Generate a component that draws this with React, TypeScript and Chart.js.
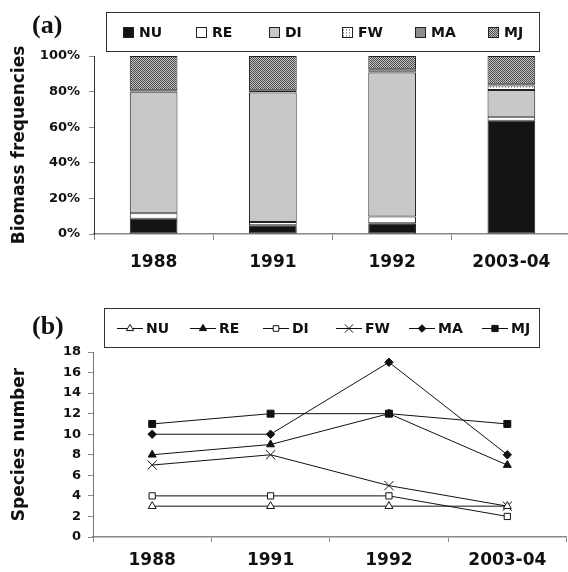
import React, { useEffect, useRef } from "react";
import { Chart, registerables } from "chart.js";

Chart.register(...registerables);

// ---------- data ----------
const years = ["1988", "1991", "1992", "2003-04"];
const groups = ["NU", "RE", "DI", "FW", "MA", "MJ"];

// (a) biomass frequencies, % per group
const biomassNU = [8.6, 4.9, 6.0, 63.6];
const biomassRE = [3.1, 1.9, 3.8, 2.3];
const biomassDI = [68.0, 72.7, 81.0, 15.0];
const biomassFW = [0.3, 0.2, 0.3, 2.5];
const biomassMA = [0.7, 1.0, 1.5, 0.7];
const biomassMJ = [19.3, 19.3, 7.4, 15.9];

// (b) species number per group
const speciesNU = [3, 3, 3, 3];
const speciesRE = [8, 9, 12, 7];
const speciesDI = [4, 4, 4, 2];
const speciesFW = [7, 8, 5, 3];
const speciesMA = [10, 10, 17, 8];
const speciesMJ = [11, 12, 12, 11];

const pctMax = 100;
const pctStep = 20;
const speciesMax = 18;
const speciesStep = 2;

const SANS = '"DejaVu Sans", Verdana, sans-serif';
const SERIF = '"Liberation Serif", "Times New Roman", serif';

function makePattern(size: number, bg: string, fg: string, pts: number[][]) {
  const c = document.createElement("canvas");
  c.width = size;
  c.height = size;
  const g = c.getContext("2d")!;
  g.fillStyle = bg;
  g.fillRect(0, 0, size, size);
  g.fillStyle = fg;
  pts.forEach(([x, y]) => g.fillRect(x, y, 1, 1));
  return g.createPattern(c, "repeat")!;
}

function markerPath(ctx: CanvasRenderingContext2D, style: string, x: number, y: number, r: number) {
  ctx.beginPath();
  if (style === "triangle") {
    let a = 0;
    ctx.moveTo(x + Math.sin(a) * r, y - Math.cos(a) * r);
    a += (2 * Math.PI) / 3;
    ctx.lineTo(x + Math.sin(a) * r, y - Math.cos(a) * r);
    a += (2 * Math.PI) / 3;
    ctx.lineTo(x + Math.sin(a) * r, y - Math.cos(a) * r);
    ctx.closePath();
  } else if (style === "rect") {
    const s = Math.SQRT1_2 * r;
    ctx.rect(x - s, y - s, 2 * s, 2 * s);
  } else if (style === "rectRot") {
    ctx.moveTo(x, y - r);
    ctx.lineTo(x + r, y);
    ctx.lineTo(x, y + r);
    ctx.lineTo(x - r, y);
    ctx.closePath();
  } else if (style === "crossRot") {
    const s = Math.SQRT1_2 * r;
    ctx.moveTo(x - s, y - s);
    ctx.lineTo(x + s, y + s);
    ctx.moveTo(x - s, y + s);
    ctx.lineTo(x + s, y - s);
  }
}

const boxLegend = {
  id: "boxLegend",
  afterDraw(chart: any, _args: any, opts: any) {
    const { ctx } = chart;
    ctx.save();
    ctx.strokeStyle = "#333";
    ctx.lineWidth = 1;
    ctx.strokeRect(opts.x + 0.5, opts.y + 0.5, opts.w, opts.h);
    const cy = opts.y + opts.h / 2 + 0.5;
    ctx.font = `bold 14px ${SANS}`;
    ctx.textBaseline = "middle";
    ctx.textAlign = "left";
    chart.data.datasets.forEach((ds: any, i: number) => {
      const x0 = opts.x + opts.startX + i * opts.step;
      if (opts.kind === "swatch") {
        ctx.fillStyle = ds.backgroundColor;
        ctx.fillRect(x0, cy - 5, 10, 10);
        ctx.strokeStyle = "#222";
        ctx.lineWidth = 1;
        ctx.strokeRect(x0 + 0.5, cy - 4.5, 10, 10);
        ctx.fillStyle = "#111";
        ctx.fillText(ds.label, x0 + 16, cy + 1);
      } else {
        ctx.strokeStyle = "#111";
        ctx.lineWidth = 1;
        ctx.beginPath();
        ctx.moveTo(x0, Math.round(cy) + 0.5);
        ctx.lineTo(x0 + 26, Math.round(cy) + 0.5);
        ctx.stroke();
        markerPath(ctx, ds.pointStyle, x0 + 13, Math.round(cy) + 0.5, ds.pointRadius * 0.9);
        if (ds.pointStyle !== "crossRot") {
          ctx.fillStyle = ds.pointBackgroundColor;
          ctx.fill();
        }
        ctx.stroke();
        ctx.fillStyle = "#111";
        ctx.fillText(ds.label, x0 + 29, cy + 1);
      }
    });
    ctx.font = `bold 26px ${SERIF}`;
    ctx.fillStyle = "#111";
    ctx.textAlign = "left";
    ctx.fillText(opts.panel, opts.panelX, opts.panelY);
    ctx.restore();
  },
};

export default function App() {
  const refA = useRef<HTMLCanvasElement>(null);
  const refB = useRef<HTMLCanvasElement>(null);

  useEffect(() => {
    const mjPat = makePattern(2, "#c4c4c4", "#4a4a4a", [[0, 0], [1, 1]]);
    const fwPat = makePattern(3, "#ffffff", "#a0a0a0", [[1, 0], [1, 2]]);
    const fills = ["#141414", "#ffffff", "#c8c8c8", fwPat, "#8c8c8c", mjPat];
    const biomass = [biomassNU, biomassRE, biomassDI, biomassFW, biomassMA, biomassMJ];
    const species = [speciesNU, speciesRE, speciesDI, speciesFW, speciesMA, speciesMJ];

    const tickFont = { family: SANS, weight: "bold" as const, size: 13 };
    const xFont = { family: SANS, weight: "bold" as const, size: 17 };

    const chartA = new Chart(refA.current!, {
      type: "bar",
      data: {
        labels: years,
        datasets: groups.map((g, i) => ({
          label: g,
          data: biomass[i],
          backgroundColor: fills[i],
          borderColor: "#222",
          borderWidth: 1,
          borderSkipped: false,
          barPercentage: 0.4,
          categoryPercentage: 1,
        })),
      },
      options: {
        animation: false,
        responsive: false,
        devicePixelRatio: 1,
        layout: { padding: { top: 56, left: 0, right: 3, bottom: 6 } },
        plugins: {
          legend: { display: false },
          tooltip: { enabled: false },
          boxLegend: {
            kind: "swatch", x: 106, y: 12, w: 433, h: 39, startX: 17, step: 73,
            panel: "(a)", panelX: 32, panelY: 26,
          },
        } as any,
        scales: {
          x: {
            stacked: true,
            grid: { drawOnChartArea: false, drawTicks: true, tickLength: 6, color: "#888", offset: true },
            border: { display: true, color: "#888", width: 1.5 },
            ticks: { font: xFont, color: "#111", padding: 12 },
            afterFit: (s: any) => { s.height = 40; },
          },
          y: {
            stacked: true,
            min: 0,
            max: pctMax,
            ticks: { stepSize: pctStep, autoSkip: false, callback: (v: any) => v + "%", font: tickFont, color: "#111", padding: 9 },
            grid: { drawOnChartArea: false, tickLength: 5, color: "#888" },
            border: { display: true, color: "#333", width: 1 },
            title: {
              display: true, text: "Biomass frequencies", color: "#111",
              font: { family: SANS, weight: "bold", size: 17 }, padding: { top: 9, bottom: 0 },
            },
            afterFit: (s: any) => { s.width = 94; },
          },
        },
      },
      plugins: [boxLegend],
    });

    const pStyles = ["triangle", "triangle", "rect", "crossRot", "rectRot", "rect"];
    const pRadius = [4.6, 4.6, 4.4, 6.5, 4.2, 4.9];
    const pBg = ["#ffffff", "#111111", "#ffffff", "#ffffff", "#111111", "#111111"];
    const pOrder = [0, 0, 0, 0, 0, -1];

    const chartB = new Chart(refB.current!, {
      type: "line",
      data: {
        labels: years,
        datasets: groups.map((g, i) => ({
          label: g,
          data: species[i],
          borderColor: "#111",
          borderWidth: 1,
          pointStyle: pStyles[i] as any,
          pointRadius: pRadius[i],
          pointBackgroundColor: pBg[i],
          pointBorderColor: "#111",
          pointBorderWidth: 1,
          fill: false,
          tension: 0,
          order: pOrder[i],
        })),
      },
      options: {
        animation: false,
        responsive: false,
        devicePixelRatio: 1,
        layout: { padding: { top: 72, left: 0, right: 1, bottom: 2 } },
        plugins: {
          legend: { display: false },
          tooltip: { enabled: false },
          boxLegend: {
            kind: "line", x: 104, y: 28, w: 435, h: 39, startX: 13, step: 73,
            panel: "(b)", panelX: 32, panelY: 47,
          },
        } as any,
        scales: {
          x: {
            offset: true,
            grid: { drawOnChartArea: false, drawTicks: true, tickLength: 5, color: "#888", offset: true },
            border: { display: true, color: "#888", width: 1.5 },
            ticks: { font: xFont, color: "#111", padding: 8 },
            afterFit: (s: any) => { s.height = 33; },
          },
          y: {
            min: 0,
            max: speciesMax,
            ticks: { stepSize: speciesStep, autoSkip: false, font: tickFont, color: "#111", padding: 7 },
            grid: { drawOnChartArea: false, tickLength: 5, color: "#888" },
            border: { display: true, color: "#777", width: 1 },
            title: {
              display: true, text: "Species number", color: "#111",
              font: { family: SANS, weight: "bold", size: 17 }, padding: { top: 9, bottom: 0 },
            },
            afterFit: (s: any) => { s.width = 93; },
          },
        },
      },
      plugins: [boxLegend],
    });

    return () => {
      chartA.destroy();
      chartB.destroy();
    };
  }, []);

  return (
    <div style={{ position: "fixed", left: 0, top: 0, width: 568, height: 572, overflow: "hidden", background: "#fff" }}>
      <canvas ref={refA} width={574} height={280} style={{ position: "absolute", left: 0, top: 0, width: 574, height: 280 }} />
      <canvas ref={refB} width={574} height={292} style={{ position: "absolute", left: 0, top: 280, width: 574, height: 292 }} />
    </div>
  );
}
